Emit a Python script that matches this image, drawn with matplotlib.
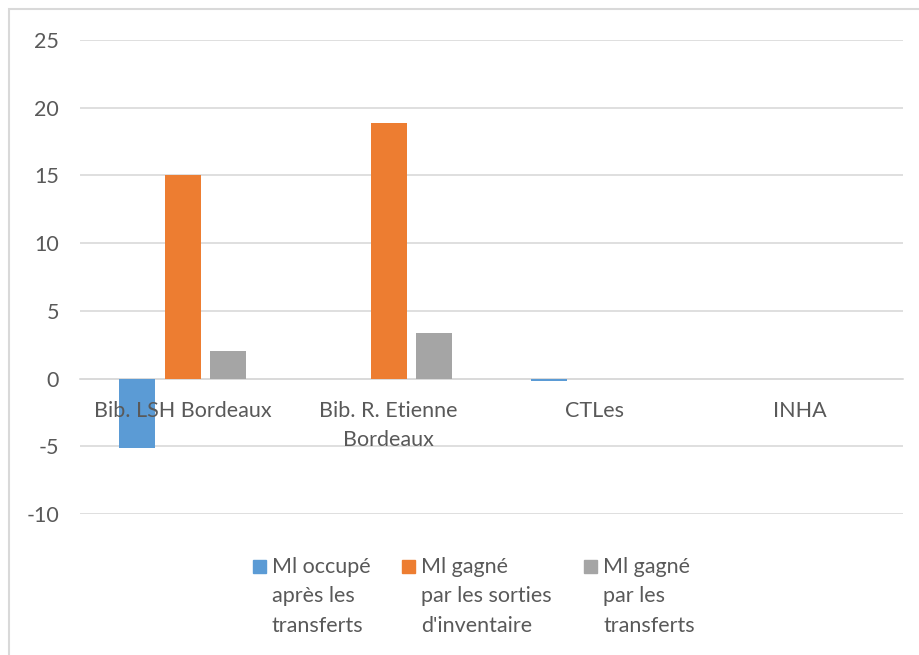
import matplotlib
matplotlib.use("Agg")
import matplotlib.pyplot as plt
import matplotlib.patches as ptch
import numpy as np

categories = ["Bib. LSH Bordeaux", "Bib. R. Etienne\nBordeaux", "CTLes", "INHA"]
ml_occupe = [-5.1, 0.0, -0.2, 0.0]
ml_sorties = [15.0, 18.9, 0.0, 0.0]
ml_transferts = [2.0, 3.4, 0.0, 0.0]
series_names = [
    ["Ml occupé", "après les", "transferts"],
    ["Ml gagné", "par les sorties", "d'inventaire"],
    ["Ml gagné", "par les", "transferts"],
]
colors = ["#5B9BD5", "#ED7D31", "#A5A5A5"]
y_ticks = [-10, -5, 0, 5, 10, 15, 20, 25]

txt_color = "#595959"
grid_color = "#D9D9D9"
plt.rcParams["font.family"] = ["Lato", "DejaVu Sans"]

fig = plt.figure(figsize=(9.19, 6.55), dpi=100)
ax = fig.add_axes([80 / 919, 1 - 514 / 655, 823 / 919, 474 / 655])

x = np.arange(len(categories))
w = 0.175
off = 0.221
for i, vals in enumerate([ml_occupe, ml_sorties, ml_transferts]):
    ax.bar(x + (i - 1) * off, vals, width=w, color=colors[i], zorder=2)

ax.set_xlim(-0.5, len(categories) - 0.5)
ax.set_ylim(-10, 25)
ax.set_yticks(y_ticks)
ax.set_yticklabels([str(v) for v in y_ticks])
ax.set_xticks(x)
ax.set_xticklabels(categories)

ax.set_axisbelow(True)
ax.yaxis.grid(True, color=grid_color, linewidth=1.2)
ax.xaxis.set_zorder(3)

for s in ["top", "right", "left"]:
    ax.spines[s].set_visible(False)
ax.spines["bottom"].set_position(("data", 0))
ax.spines["bottom"].set_color(grid_color)
ax.spines["bottom"].set_linewidth(1.2)
ax.spines["bottom"].set_zorder(1)

ax.tick_params(axis="both", length=0, colors=txt_color, labelsize=15.5)
ax.tick_params(axis="x", pad=16)
ax.tick_params(axis="y", pad=15)
for lab in ax.get_xticklabels():
    lab.set_linespacing(1.55)

# legend drawn by hand to keep Excel's layout
leg_x = [253, 402, 584]
for i, lines in enumerate(series_names):
    fig.patches.append(ptch.Rectangle((leg_x[i] / 919, 1 - 573 / 655), 13 / 919, 13 / 655,
                                      transform=fig.transFigure, color=colors[i]))
    for j, line in enumerate(lines):
        fig.text((leg_x[i] + 19) / 919, 1 - (573 + j * 29.5) / 655, line,
                 color=txt_color, fontsize=15.5, va="baseline", ha="left")

# chart frame
fig.patches.append(ptch.Rectangle((9 / 919, -0.05), 1.1, 1 - 9 / 655 + 0.05,
                                  transform=fig.transFigure, fill=False,
                                  edgecolor=grid_color, linewidth=1.5))

fig.savefig("out.png", dpi=100)
